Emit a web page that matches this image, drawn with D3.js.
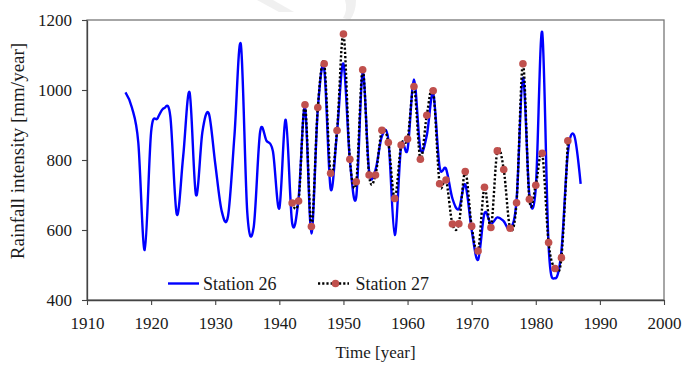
<!DOCTYPE html>
<html>
<head>
<meta charset="utf-8">
<script src="https://cdn.jsdelivr.net/npm/d3@7"></script>
<style>
  html, body { margin: 0; padding: 0; background: #fff; }
  svg { display: block; }
</style>
</head>
<body>
<svg id="chart" width="684" height="365"></svg>
<script>
// Annual rainfall intensity [mm/year]
const years26 = d3.range(1916, 1988);
const station26 = [
  993, 950, 850, 543, 880, 919, 948, 924, 645, 810,
  993, 700, 880, 933, 790, 655, 640, 870, 1130, 650,
  608, 880, 855, 825, 662, 915, 620, 690, 950, 590,
  945, 1060, 718, 880, 1075, 800, 695, 1050, 768, 772,
  868, 858, 586, 840, 830, 1030, 832, 870, 990, 780,
  775, 690, 660, 730, 600, 515, 648, 618, 636, 625,
  603, 685, 1035, 700, 720, 1165, 555, 462, 540, 820,
  870, 732
];
const years27 = d3.range(1942, 1986);
const station27 = [
  677, 683, 958, 610, 950, 1075, 762, 884, 1160, 802,
  738, 1058, 757, 757, 885, 850, 690, 843, 860, 1010,
  802, 928, 998, 732, 743, 617, 618, 767, 611, 540,
  722, 607, 826, 773, 605, 678, 1075, 688, 728, 819,
  564, 490, 521, 855
];
const xTicks = [1910, 1920, 1930, 1940, 1950, 1960, 1970, 1980, 1990, 2000];
const yTicks = [400, 600, 800, 1000, 1200];
const seriesNames = ["Station 26", "Station 27"];

const SERIF = "'Liberation Serif', 'Times New Roman', serif";
const INK = "#1a1a1a";

const svg = d3.select("#chart");
const plotL = 87, plotR = 664, plotT = 20, plotB = 300;

const x = d3.scaleLinear().domain([1910, 2000]).range([plotL, plotR]);
const y = d3.scaleLinear().domain([400, 1200]).range([plotB, plotT]);

// faint background mark near the top edge
const mark = svg.append("g").attr("fill", "#f0f0f0");
mark.append("path").attr("d", "M257,0 L273,0 L294,12 L279,12 Z");
mark.append("path").attr("d", "M345,0 L356,0 Q356,12 350,20 L343,18 Q348,10 345,0 Z");

// plot frame
svg.append("rect")
  .attr("x", plotL).attr("y", plotT)
  .attr("width", plotR - plotL).attr("height", plotB - plotT)
  .attr("fill", "none").attr("stroke", "#777").attr("stroke-width", 1.3);

// axes
const xAxis = svg.append("g")
  .attr("transform", `translate(0,${plotB})`)
  .call(d3.axisBottom(x).tickValues(xTicks).tickFormat(d3.format("d")).tickSize(5).tickSizeOuter(0));
const yAxis = svg.append("g")
  .attr("transform", `translate(${plotL},0)`)
  .call(d3.axisLeft(y).tickValues(yTicks).tickFormat(d3.format("d")).tickSize(5).tickSizeOuter(0));

[xAxis, yAxis].forEach(g => {
  g.select(".domain").attr("stroke", "#444").attr("stroke-width", 1.3);
  g.selectAll(".tick line").attr("stroke", "#444").attr("stroke-width", 1.1);
  g.selectAll(".tick text")
    .style("font-family", SERIF)
    .style("font-size", "17px").attr("fill", INK);
});
xAxis.selectAll(".tick text").attr("y", 17).attr("dy", "0.71em");
yAxis.selectAll(".tick text").attr("x", -15).attr("dy", "0.34em");

// axis titles
svg.append("text")
  .attr("x", (plotL + plotR) / 2).attr("y", 358)
  .attr("text-anchor", "middle")
  .style("font-family", SERIF).style("font-size", "17px").attr("fill", INK)
  .text("Time [year]");
svg.append("text")
  .attr("transform", "translate(24,151) rotate(-90)")
  .attr("text-anchor", "middle")
  .style("font-family", SERIF).style("font-size", "19px").attr("fill", INK)
  .text("Rainfall intensity [mm/year]");

const line = d3.line()
  .x(d => x(d[0])).y(d => y(d[1]))
  .curve(d3.curveCardinal.tension(0));

const data26 = years26.map((yr, i) => [yr, station26[i]]);
const data27 = years27.map((yr, i) => [yr, station27[i]]);

svg.append("path")
  .datum(data26)
  .attr("d", line)
  .attr("fill", "none")
  .attr("stroke", "#0000ff")
  .attr("stroke-width", 2.4);

svg.append("path")
  .datum(data27)
  .attr("d", line)
  .attr("fill", "none")
  .attr("stroke", "#000")
  .attr("stroke-width", 2.4)
  .attr("stroke-dasharray", "2.2 2");

svg.append("g").selectAll("circle")
  .data(data27)
  .join("circle")
  .attr("cx", d => x(d[0])).attr("cy", d => y(d[1]))
  .attr("r", 3.8)
  .attr("fill", "#c0504d");

// legend
const lg = svg.append("g");
lg.append("line")
  .attr("x1", 168).attr("x2", 199).attr("y1", 283.5).attr("y2", 283.5)
  .attr("stroke", "#0000ff").attr("stroke-width", 2.4);
lg.append("line")
  .attr("x1", 318).attr("x2", 349).attr("y1", 283.5).attr("y2", 283.5)
  .attr("stroke", "#000").attr("stroke-width", 2.4).attr("stroke-dasharray", "2.2 2");
lg.append("circle").attr("cx", 335.5).attr("cy", 283.5).attr("r", 3.8).attr("fill", "#c0504d");
lg.selectAll("text.lbl")
  .data(seriesNames)
  .join("text")
  .attr("class", "lbl")
  .attr("x", (d, i) => i === 0 ? 203 : 355.5)
  .attr("y", 289.5)
  .style("font-family", SERIF).style("font-size", "18px").attr("fill", INK)
  .text(d => d);
</script>
</body>
</html>
